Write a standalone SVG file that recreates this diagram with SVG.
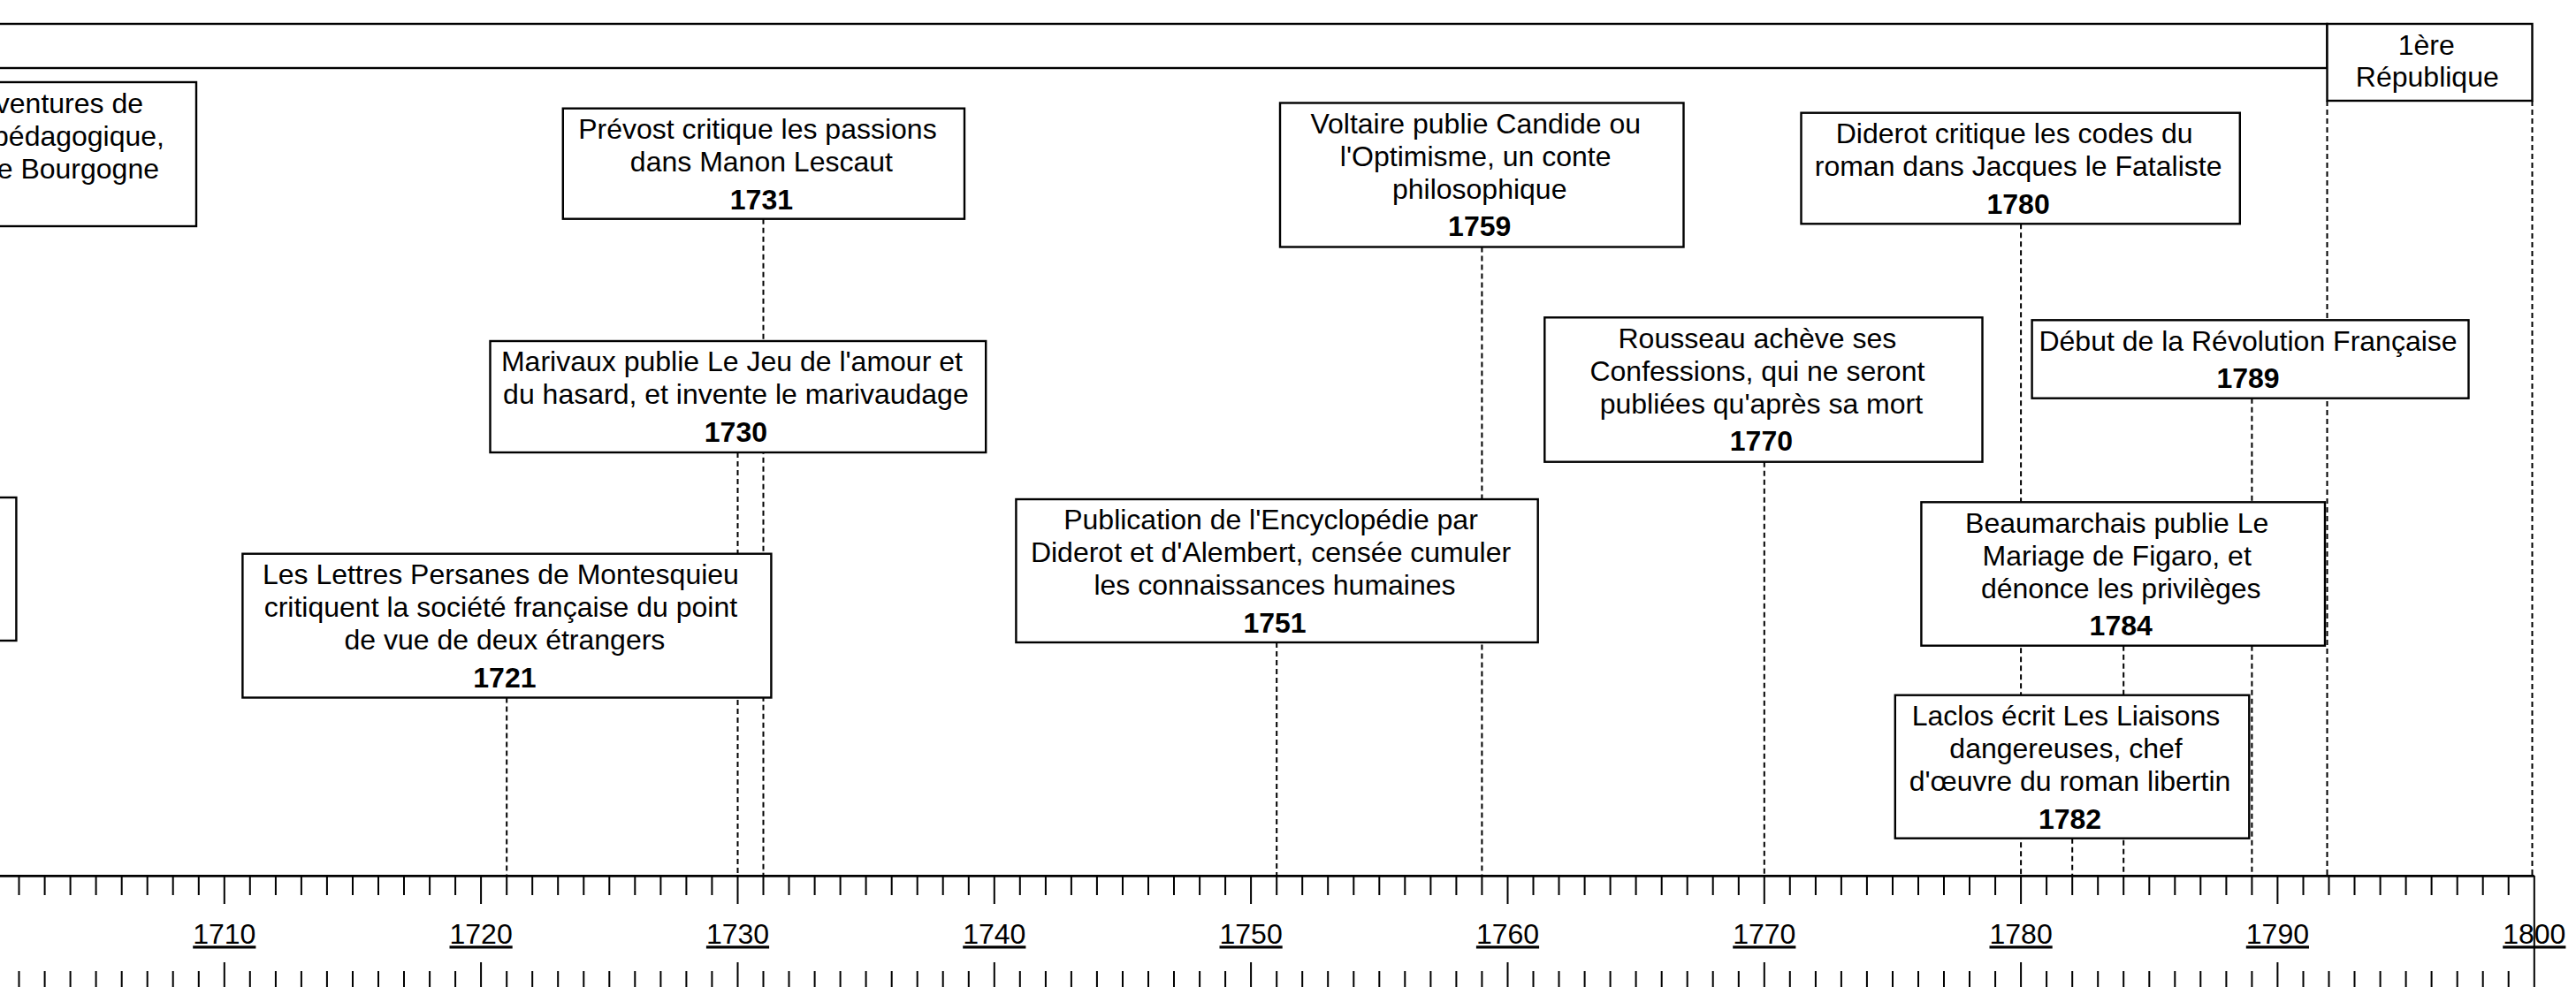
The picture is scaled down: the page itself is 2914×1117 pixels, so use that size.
<svg xmlns="http://www.w3.org/2000/svg" width="2914" height="1117" viewBox="0 0 2914 1117">
<style>
.box{fill:#fff;stroke:#000;stroke-width:2.4}
.t{font-family:"Liberation Sans",Arial,sans-serif;font-size:32px;text-anchor:middle;fill:#000}
.e{text-anchor:end}
.y{font-weight:bold}
.conn{stroke:#000;stroke-width:2;stroke-dasharray:6 4;fill:none}
.tick{stroke:#000;stroke-width:2;fill:none}
.axis{stroke:#000;stroke-width:2.8;fill:none}
.lbl{text-decoration:underline}
</style>
<rect width="2914" height="1117" fill="#fff"/>

<g id="connectors">
<line class="conn" x1="573.2" y1="789.5" x2="573.2" y2="991"/>
<line class="conn" x1="834.5" y1="512" x2="834.5" y2="991"/>
<line class="conn" x1="863.5" y1="247.7" x2="863.5" y2="991"/>
<line class="conn" x1="1444.2" y1="727" x2="1444.2" y2="991"/>
<line class="conn" x1="1676.4" y1="279.5" x2="1676.4" y2="991"/>
<line class="conn" x1="1995.8" y1="522.7" x2="1995.8" y2="991"/>
<line class="conn" x1="2286.1" y1="253.3" x2="2286.1" y2="991"/>
<line class="conn" x1="2344.2" y1="948.7" x2="2344.2" y2="991"/>
<line class="conn" x1="2402.2" y1="730.7" x2="2402.2" y2="991"/>
<line class="conn" x1="2547.4" y1="450.7" x2="2547.4" y2="991"/>
<line class="conn" x1="2632.5" y1="114" x2="2632.5" y2="991"/>
<line class="conn" x1="2864.5" y1="114" x2="2864.5" y2="991"/>
</g>

<g id="periode">
<rect class="box" x="-10" y="27" width="2642.5" height="50"/>
</g>
<g id="republique">
<rect class="box" x="2632.5" y="27" width="232" height="87"/>
<text class="t" x="2744.7" y="61.7">1ère</text>
<text class="t" x="2745.8" y="98.3">République</text>
</g>

<g id="fenelon">
<rect class="box" x="-10" y="93" width="232" height="163"/>
<text class="t e" x="162" y="127.5">ventures de</text>
<text class="t e" x="186" y="164.5">pédagogique,</text>
<text class="t e" x="180" y="201.5">e Bourgogne</text>
</g>

<g id="event-left">
<rect class="box" x="-10" y="563" width="28.4" height="162"/>
</g>

<g id="lettres-persanes">
<rect class="box" x="274.4" y="626.7" width="598" height="162.8"/>
<text class="t" x="566.4" y="661">Les Lettres Persanes de Montesquieu</text>
<text class="t" x="566.4" y="698">critiquent la société française du point</text>
<text class="t" x="570.9" y="735">de vue de deux étrangers</text>
<text class="t y" x="570.9" y="777.5">1721</text>
</g>

<g id="prevost">
<rect class="box" x="636.8" y="122.7" width="454.2" height="125"/>
<text class="t" x="856.9" y="157">Prévost critique les passions</text>
<text class="t" x="861.4" y="194">dans Manon Lescaut</text>
<text class="t y" x="861.4" y="236.5">1731</text>
</g>

<g id="marivaux">
<rect class="box" x="554.5" y="386" width="560.7" height="126"/>
<text class="t" x="827.9" y="420.3">Marivaux publie Le Jeu de l'amour et</text>
<text class="t" x="832.4" y="457.3">du hasard, et invente le marivaudage</text>
<text class="t y" x="832.4" y="499.8">1730</text>
</g>

<g id="encyclopedie">
<rect class="box" x="1149.4" y="565" width="590.3" height="162"/>
<text class="t" x="1437.5" y="599.3">Publication de l'Encyclopédie par</text>
<text class="t" x="1437.5" y="636.3">Diderot et d'Alembert, censée cumuler</text>
<text class="t" x="1442" y="673.3">les connaissances humaines</text>
<text class="t y" x="1442" y="715.8">1751</text>
</g>

<g id="voltaire">
<rect class="box" x="1448" y="116.5" width="456.5" height="163"/>
<text class="t" x="1669.2" y="150.8">Voltaire publie Candide ou</text>
<text class="t" x="1669.2" y="187.8">l'Optimisme, un conte</text>
<text class="t" x="1673.7" y="224.8">philosophique</text>
<text class="t y" x="1673.7" y="267.3">1759</text>
</g>

<g id="rousseau">
<rect class="box" x="1747.3" y="359.3" width="495.2" height="163.4"/>
<text class="t" x="1987.9" y="393.6">Rousseau achève ses</text>
<text class="t" x="1987.9" y="430.6">Confessions, qui ne seront</text>
<text class="t" x="1992.4" y="467.6">publiées qu'après sa mort</text>
<text class="t y" x="1992.4" y="510.1">1770</text>
</g>

<g id="diderot">
<rect class="box" x="2037.5" y="127.7" width="496.3" height="125.6"/>
<text class="t" x="2278.6" y="162">Diderot critique les codes du</text>
<text class="t" x="2283.1" y="199">roman dans Jacques le Fataliste</text>
<text class="t y" x="2283.1" y="241.5">1780</text>
</g>

<g id="revolution">
<rect class="box" x="2298.6" y="362.3" width="493.9" height="88.4"/>
<text class="t" x="2543" y="396.6">Début de la Révolution Française</text>
<text class="t y" x="2543" y="439.1">1789</text>
</g>

<g id="beaumarchais">
<rect class="box" x="2173.4" y="568.3" width="456.6" height="162.4"/>
<text class="t" x="2394.7" y="602.6">Beaumarchais publie Le</text>
<text class="t" x="2394.7" y="639.6">Mariage de Figaro, et</text>
<text class="t" x="2399.2" y="676.6">dénonce les privilèges</text>
<text class="t y" x="2399.2" y="719.1">1784</text>
</g>

<g id="laclos">
<rect class="box" x="2143.8" y="786.7" width="400.5" height="162"/>
<text class="t" x="2337" y="821">Laclos écrit Les Liaisons</text>
<text class="t" x="2337" y="858">dangereuses, chef</text>
<text class="t" x="2341.5" y="895">d'œuvre du roman libertin</text>
<text class="t y" x="2341.5" y="937.5">1782</text>
</g>

<g id="axis">
<line class="axis" x1="0" y1="991.3" x2="2866.8" y2="991.3"/>
<line class="tick" x1="2866.8" y1="991" x2="2866.8" y2="1117"/>
<path class="tick" d="M21.5 991v22M50.6 991v22M79.6 991v22M108.6 991v22M137.7 991v22M166.7 991v22M195.7 991v22M224.8 991v22M282.8 991v22M311.9 991v22M340.9 991v22M369.9 991v22M399 991v22M428 991v22M457 991v22M486.1 991v22M515.1 991v22M573.2 991v22M602.2 991v22M631.2 991v22M660.3 991v22M689.3 991v22M718.3 991v22M747.4 991v22M776.4 991v22M805.4 991v22M863.5 991v22M892.5 991v22M921.6 991v22M950.6 991v22M979.6 991v22M1008.7 991v22M1037.7 991v22M1066.7 991v22M1095.8 991v22M1153.8 991v22M1182.9 991v22M1211.9 991v22M1240.9 991v22M1270 991v22M1299 991v22M1328 991v22M1357.1 991v22M1386.1 991v22M1444.2 991v22M1473.2 991v22M1502.2 991v22M1531.3 991v22M1560.3 991v22M1589.3 991v22M1618.4 991v22M1647.4 991v22M1676.4 991v22M1734.5 991v22M1763.5 991v22M1792.6 991v22M1821.6 991v22M1850.6 991v22M1879.7 991v22M1908.7 991v22M1937.7 991v22M1966.8 991v22M2024.8 991v22M2053.9 991v22M2082.9 991v22M2111.9 991v22M2141 991v22M2170 991v22M2199 991v22M2228 991v22M2257.1 991v22M2315.1 991v22M2344.2 991v22M2373.2 991v22M2402.2 991v22M2431.3 991v22M2460.3 991v22M2489.3 991v22M2518.4 991v22M2547.4 991v22M2605.5 991v22M2634.5 991v22M2663.5 991v22M2692.6 991v22M2721.6 991v22M2750.6 991v22M2779.7 991v22M2808.7 991v22M2837.7 991v22"/>
<path class="tick" d="M253.8 991v32M544.1 991v32M834.5 991v32M1124.8 991v32M1415.1 991v32M1705.5 991v32M1995.8 991v32M2286.1 991v32M2576.4 991v32"/>
<path class="tick" d="M21.5 1099v20M50.6 1099v20M79.6 1099v20M108.6 1099v20M137.7 1099v20M166.7 1099v20M195.7 1099v20M224.8 1099v20M282.8 1099v20M311.9 1099v20M340.9 1099v20M369.9 1099v20M399 1099v20M428 1099v20M457 1099v20M486.1 1099v20M515.1 1099v20M573.2 1099v20M602.2 1099v20M631.2 1099v20M660.3 1099v20M689.3 1099v20M718.3 1099v20M747.4 1099v20M776.4 1099v20M805.4 1099v20M863.5 1099v20M892.5 1099v20M921.6 1099v20M950.6 1099v20M979.6 1099v20M1008.7 1099v20M1037.7 1099v20M1066.7 1099v20M1095.8 1099v20M1153.8 1099v20M1182.9 1099v20M1211.9 1099v20M1240.9 1099v20M1270 1099v20M1299 1099v20M1328 1099v20M1357.1 1099v20M1386.1 1099v20M1444.2 1099v20M1473.2 1099v20M1502.2 1099v20M1531.3 1099v20M1560.3 1099v20M1589.3 1099v20M1618.4 1099v20M1647.4 1099v20M1676.4 1099v20M1734.5 1099v20M1763.5 1099v20M1792.6 1099v20M1821.6 1099v20M1850.6 1099v20M1879.7 1099v20M1908.7 1099v20M1937.7 1099v20M1966.8 1099v20M2024.8 1099v20M2053.9 1099v20M2082.9 1099v20M2111.9 1099v20M2141 1099v20M2170 1099v20M2199 1099v20M2228 1099v20M2257.1 1099v20M2315.1 1099v20M2344.2 1099v20M2373.2 1099v20M2402.2 1099v20M2431.3 1099v20M2460.3 1099v20M2489.3 1099v20M2518.4 1099v20M2547.4 1099v20M2605.5 1099v20M2634.5 1099v20M2663.5 1099v20M2692.6 1099v20M2721.6 1099v20M2750.6 1099v20M2779.7 1099v20M2808.7 1099v20M2837.7 1099v20"/>
<path class="tick" d="M253.8 1089v30M544.1 1089v30M834.5 1089v30M1124.8 1089v30M1415.1 1089v30M1705.5 1089v30M1995.8 1089v30M2286.1 1089v30M2576.4 1089v30"/>
<g class="t lbl">
<text x="253.8" y="1068.3">1710</text>
<text x="544.1" y="1068.3">1720</text>
<text x="834.5" y="1068.3">1730</text>
<text x="1124.8" y="1068.3">1740</text>
<text x="1415.1" y="1068.3">1750</text>
<text x="1705.5" y="1068.3">1760</text>
<text x="1995.8" y="1068.3">1770</text>
<text x="2286.1" y="1068.3">1780</text>
<text x="2576.4" y="1068.3">1790</text>
<text x="2866.8" y="1068.3">1800</text>
</g>
</g>
</svg>
